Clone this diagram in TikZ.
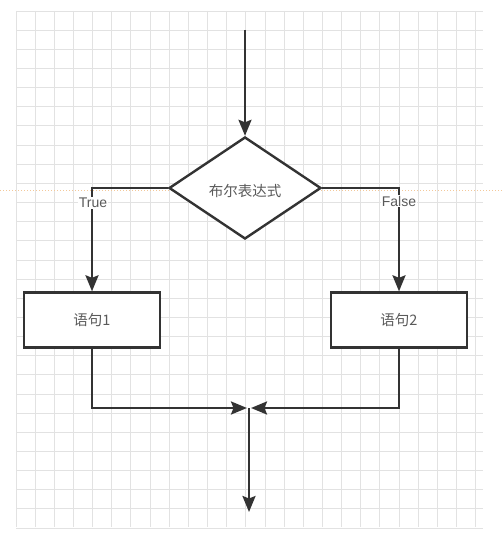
\documentclass[tikz,border=0pt]{standalone}
\usepackage{fontspec}
\setmainfont{Liberation Sans}
\newfontfamily\cjk{Noto Sans CJK SC}
\usetikzlibrary{arrows.meta,shapes.geometric}
\definecolor{gridc}{HTML}{E2E2E2}
\definecolor{linec}{HTML}{333333}
\definecolor{textc}{HTML}{5A5A5A}
\definecolor{guide}{HTML}{F3C89A}
\tikzset{
  flow/.style={draw=linec, line width=2.4pt, fill=white, text=textc, font=\cjk\fontsize{14.5}{17}\selectfont},
  conn/.style={draw=linec, line width=2.4pt},
  arr/.style={conn, -{Stealth[length=16pt,width=13pt,inset=2.5pt]}},
  lbl/.style={fill=white, text=textc, inner sep=1pt, font=\fontsize{14}{16}\selectfont},
}
\begin{document}
\begin{tikzpicture}[x=1pt,y=-1pt]
\useasboundingbox (0,0) rectangle (503,534);
\fill[white] (0,0) rectangle (503,534);
% grid
\foreach \i in {0,...,24} {
  \draw[gridc, line width=0.9pt] ({16+19.15*\i},11) -- ({16+19.15*\i},527);
}
\foreach \j in {0,...,27} {
  \draw[gridc, line width=0.9pt] (16,{11+19.15*\j}) -- (483,{11+19.15*\j});
}
% guide line
\draw[guide, line width=0.6pt, dash pattern=on 1pt off 2pt] (0,190) -- (503,190);

\coordinate (start) at (245,30);
\node[flow, diamond, minimum width=152pt, minimum height=102pt, inner sep=0pt] (cond) at (245,188) {};
\node[text=textc, font=\cjk\fontsize{14.5}{17}\selectfont] (condt) at (245,191) {布尔表达式};
\node[flow, rectangle, minimum width=136pt, minimum height=55pt] (s1) at (92,320) {语句1};
\node[flow, rectangle, minimum width=136pt, minimum height=55pt] (s2) at (399,320) {语句2};
\coordinate (tl) at (92,188);
\coordinate (tr) at (399,188);
\coordinate (m1) at (92,408);
\coordinate (m2) at (399,408);
\coordinate (j1) at (247,408);
\coordinate (j2) at (251,408);
\coordinate (jd) at (249,408);
\coordinate (end) at (249,512);

\draw[arr] (start) -- (cond.north);
\draw[arr] (cond.west) -- (tl) -- (s1.north);
\draw[arr] (cond.east) -- (tr) -- (s2.north);
\node[lbl] (tt) at (93,203) {True};
\node[lbl] (ft) at (399,201) {False};
\draw[arr] (s1.south) -- (m1) -- (j1);
\draw[arr] (s2.south) -- (m2) -- (j2);
\draw[arr] (jd) -- (end);
\end{tikzpicture}
\end{document}
